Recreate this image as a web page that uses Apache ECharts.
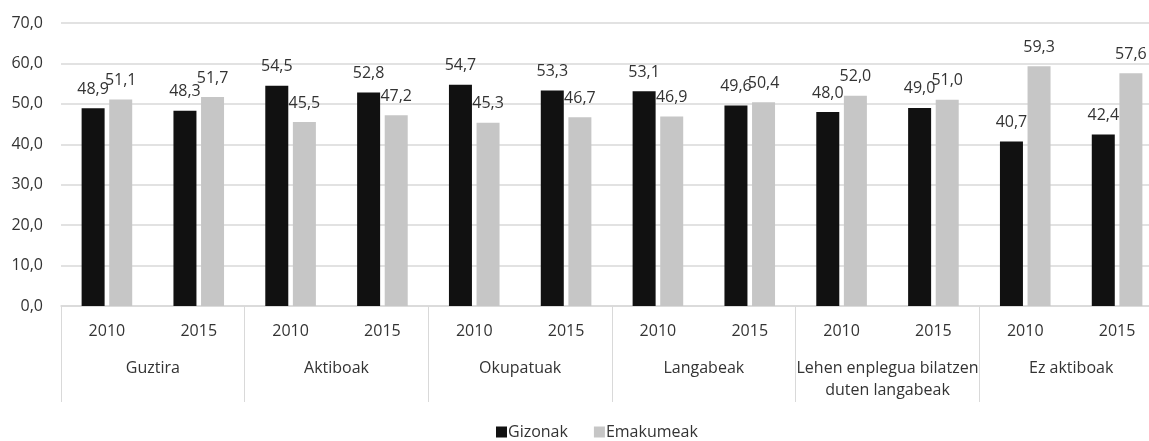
<!DOCTYPE html>
<html>
<head>
<meta charset="utf-8">
<script src="https://cdn.jsdelivr.net/npm/echarts@6/dist/echarts.min.js"></script>
<style>
  html, body { margin: 0; padding: 0; background: #fff; }
  #chart { width: 1149px; height: 441px; }
</style>
</head>
<body>
<div id="chart"></div>
<script>
const years = ['2010', '2015', '2010', '2015', '2010', '2015', '2010', '2015', '2010', '2015', '2010', '2015']
const groups = ['Guztira', 'Aktiboak', 'Okupatuak', 'Langabeak', 'Lehen enplegua bilatzen\nduten langabeak', 'Ez aktiboak']
const gizonak = [48.9, 48.3, 54.5, 52.8, 54.7, 53.3, 53.1, 49.6, 48.0, 49.0, 40.7, 42.4]
const emakumeak = [51.1, 51.7, 45.5, 47.2, 45.3, 46.7, 46.9, 50.4, 52.0, 51.0, 59.3, 57.6]
const yTicks = { min: 0, max: 70, interval: 10 }

const font = '"Open Sans", sans-serif'
const txt = '#333333'
const fs = 16
const fmt = v => v.toFixed(1).replace('.', ',')

const myChart = echarts.init(document.getElementById('chart'))
myChart.setOption({
    animation: false,
    textStyle: { fontFamily: font },
    // the plot runs a bit past the right edge, like the cropped original
    grid: { left: 61, width: 1102, top: 23, bottom: 135, outerBoundsMode: 'none' },
    legend: {
        top: 424,
        left: 496,
        icon: 'rect',
        itemWidth: 11,
        itemHeight: 11,
        itemGap: 26,
        padding: 0,
        textStyle: { color: txt, fontSize: fs, fontFamily: font, padding: [0, 0, 0, -4] },
        data: ['Gizonak', 'Emakumeak']
    },
    xAxis: [
        {
            type: 'category',
            data: years,
            axisLine: { lineStyle: { color: '#d9d9d9', width: 1.5 } },
            axisTick: { show: false },
            axisLabel: { color: txt, fontSize: fs, margin: 17, interval: 0 }
        },
        {
            type: 'category',
            data: groups,
            position: 'bottom',
            axisLine: { show: false },
            axisTick: { show: true, length: 96, interval: 0, lineStyle: { color: '#d9d9d9' } },
            axisLabel: { color: txt, fontSize: fs, margin: 51, interval: 0, verticalAlign: 'top', lineHeight: 22 }
        }
    ],
    yAxis: {
        type: 'value',
        min: yTicks.min,
        max: yTicks.max,
        interval: yTicks.interval,
        axisLine: { show: false },
        axisTick: { show: false },
        splitLine: { lineStyle: { color: '#d9d9d9', width: 1.5 } },
        axisLabel: { color: txt, fontSize: fs, margin: 18, formatter: v => fmt(v) }
    },
    series: [
        {
            name: 'Gizonak',
            type: 'bar',
            data: gizonak,
            barWidth: 23,
            barGap: '20%',
            itemStyle: { color: '#111111' },
            label: { show: true, position: 'top', distance: 11, color: txt, fontSize: fs, formatter: p => fmt(p.value) }
        },
        {
            name: 'Emakumeak',
            type: 'bar',
            data: emakumeak,
            barWidth: 23,
            itemStyle: { color: '#c6c6c6' },
            label: { show: true, position: 'top', distance: 11, color: txt, fontSize: fs, formatter: p => fmt(p.value) }
        }
    ]
})
</script>
</body>
</html>
